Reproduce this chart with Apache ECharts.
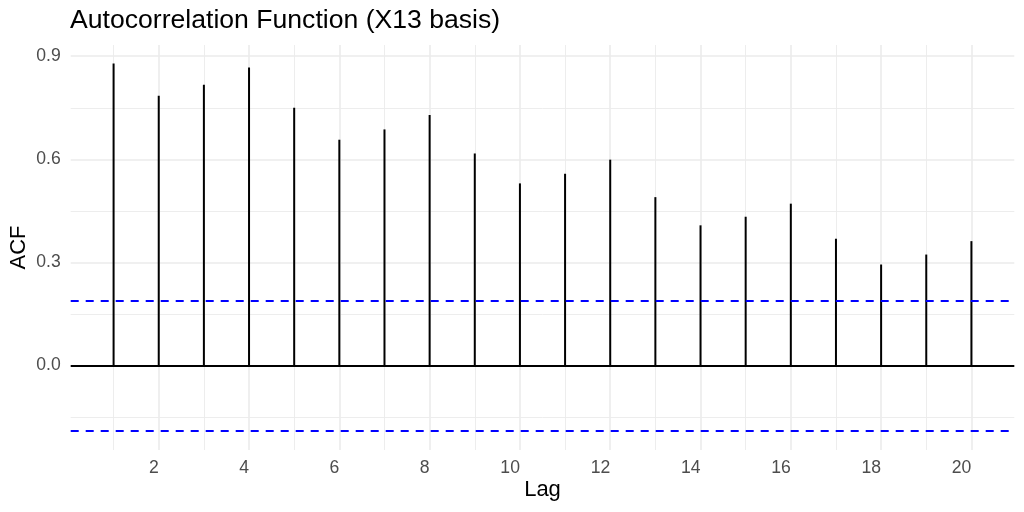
<!DOCTYPE html>
<html>
<head>
<meta charset="utf-8">
<title>ACF</title>
<script src="https://cdn.jsdelivr.net/npm/echarts@6.0.0/dist/echarts.min.js"></script>
<style>
  html, body { margin: 0; padding: 0; background: #fff; }
  #main { width: 1024px; height: 512px; }
</style>
</head>
<body>
<div id="main"></div>
<script>
// values
var lags = [1, 2, 3, 4, 5, 6, 7, 8, 9, 10, 11, 12, 13, 14, 15, 16, 17, 18, 19, 20];
var acfValues = [0.879, 0.785, 0.817, 0.867, 0.750, 0.657, 0.687, 0.729, 0.617, 0.530,
                 0.558, 0.599, 0.490, 0.408, 0.433, 0.471, 0.369, 0.294, 0.323, 0.362];
var ciBound = 0.192;

var xTicks = [2, 4, 6, 8, 10, 12, 14, 16, 18, 20];
var xMinorTicks = [1, 3, 5, 7, 9, 11, 13, 15, 17, 19];
var yTicks = [0, 0.3, 0.6, 0.9];
var yMinorTicks = [-0.15, 0.15, 0.45, 0.75];

// ggplot style 5% expansion of the data range
var xLo = Math.min.apply(null, lags), xHi = Math.max.apply(null, lags);
var xPad = (xHi - xLo) * 0.05;
var yLo = -ciBound, yHi = Math.max.apply(null, acfValues);
var yPad = (yHi - yLo) * 0.05;

var FONT = 'Liberation Sans, Arial, sans-serif';
var gridMajor = '#ebebeb';

var chart = echarts.init(document.getElementById('main'), null, { renderer: 'canvas' });

var option = {
  backgroundColor: '#ffffff',
  animation: false,
  title: {
    text: 'Autocorrelation Function (X13 basis)',
    left: 70,
    top: 7,
    padding: 0,
    textStyle: { fontFamily: FONT, fontSize: 26.6, fontWeight: 'normal', color: '#000' }
  },
  grid: {
    left: 70.7, right: 9.7, top: 45, bottom: 62,
    containLabel: false,
    outerBoundsMode: 'none'
  },
  xAxis: [{
    type: 'value',
    min: xLo - xPad,
    max: xHi + xPad,
    name: 'Lag',
    nameLocation: 'middle',
    nameGap: 28.5,
    nameMoveOverlap: false,
    nameTextStyle: { fontFamily: FONT, fontSize: 22, color: '#000' },
    axisLine: { show: false },
    axisTick: { show: false, customValues: xTicks },
    axisLabel: {
      customValues: xTicks,
      align: 'right',
      margin: 9,
      fontFamily: FONT, fontSize: 17.6, color: '#4d4d4d'
    },
    splitLine: { show: true, lineStyle: { color: gridMajor, width: 1.6 } }
  }, {
    // minor vertical grid
    type: 'value',
    min: xLo - xPad,
    max: xHi + xPad,
    position: 'bottom',
    axisLine: { show: false },
    axisTick: { show: false, customValues: xMinorTicks },
    axisLabel: { show: false, customValues: xMinorTicks },
    splitLine: { show: true, lineStyle: { color: gridMajor, width: 0.9 } }
  }],
  yAxis: [{
    type: 'value',
    min: yLo - yPad,
    max: yHi + yPad,
    name: 'ACF',
    nameLocation: 'middle',
    nameGap: 41,
    nameRotate: 90,
    nameMoveOverlap: false,
    nameTextStyle: { fontFamily: FONT, fontSize: 22, color: '#000' },
    axisLine: { show: false },
    axisTick: { show: false, customValues: yTicks },
    axisLabel: {
      customValues: yTicks,
      margin: 10,
      formatter: function (v) { return v.toFixed(1); },
      fontFamily: FONT, fontSize: 17.6, color: '#4d4d4d'
    },
    splitLine: { show: true, lineStyle: { color: gridMajor, width: 1.6 } }
  }, {
    // minor horizontal grid
    type: 'value',
    min: yLo - yPad,
    max: yHi + yPad,
    position: 'left',
    axisLine: { show: false },
    axisTick: { show: false, customValues: yMinorTicks },
    axisLabel: { show: false, customValues: yMinorTicks },
    splitLine: { show: true, lineStyle: { color: gridMajor, width: 0.9 } }
  }],
  series: [{
    name: 'ACF',
    type: 'bar',
    xAxisIndex: 0,
    yAxisIndex: 0,
    barWidth: 2,
    itemStyle: { color: '#000' },
    silent: true,
    data: lags.map(function (l, i) { return [l, acfValues[i]]; }),
    markLine: {
      silent: true,
      symbol: 'none',
      label: { show: false },
      data: [
        { yAxis: 0, lineStyle: { color: '#000', width: 2, type: 'solid' } },
        { yAxis: ciBound, lineStyle: { color: '#0000ff', width: 2, type: [8, 7] } },
        { yAxis: -ciBound, lineStyle: { color: '#0000ff', width: 2, type: [8, 7] } }
      ]
    }
  }]
};

chart.setOption(option);
</script>
</body>
</html>
